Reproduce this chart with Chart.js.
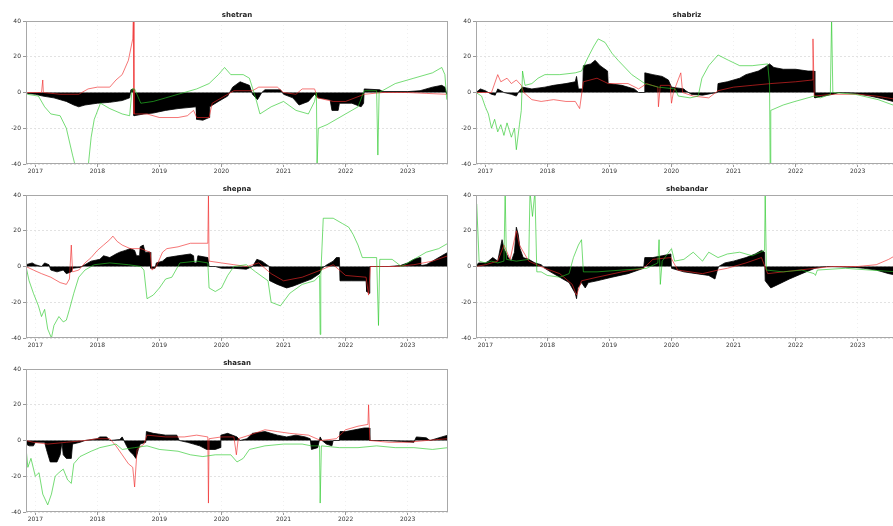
<!DOCTYPE html>
<html>
<head>
<meta charset="utf-8">
<script src="https://cdn.jsdelivr.net/npm/chart.js@4.4.1/dist/chart.umd.min.js"></script>
<style>
  html, body { margin: 0; padding: 0; background: #fff; overflow: hidden; }
  body { width: 893px; height: 526px; position: relative; }
  canvas { position: absolute; }
</style>
</head>
<body>
<script>
// ---- data: decimal-year / value pairs for each panel ----
const panelTitles = ['shetran', 'shabriz', 'shepna', 'shebandar', 'shasan'];
const yearTicks = [2017, 2018, 2019, 2020, 2021, 2022, 2023];
const yearLabels = ['2017', '2018', '2019', '2020', '2021', '2022', '2023'];
const valueTicks = [-40, -20, 0, 20, 40];

const shetranFill = [[2016.87,-0.5],[2017.0,-1],[2017.12,-2],[2017.3,-3],[2017.5,-5],[2017.62,-7],[2017.7,-8],[2017.8,-7],[2018.0,-6],[2018.2,-5.5],[2018.4,-4.5],[2018.52,-3],[2018.54,1.5],[2018.58,2],[2018.59,-13],[2018.75,-12],[2018.9,-11.5],[2019.1,-10],[2019.3,-9],[2019.59,-8],[2019.6,-15],[2019.7,-15.5],[2019.8,-14],[2019.81,-8],[2019.95,-5],[2020.1,-2],[2020.18,3],[2020.3,6],[2020.45,4],[2020.5,-1],[2020.58,-4],[2020.65,0],[2020.7,1.5],[2020.95,1.5],[2021.0,-1],[2021.15,-3],[2021.25,-7],[2021.4,-5],[2021.5,-1],[2021.55,-3],[2021.75,-4],[2021.78,-10],[2021.88,-10],[2021.9,-6],[2022.1,-6],[2022.25,-8],[2022.29,-6],[2022.3,2],[2022.55,1.5],[2022.6,0.5],[2023.0,0.5],[2023.2,1],[2023.4,3],[2023.55,4],[2023.6,3],[2023.63,-1]];
const shetranRed = [[2016.87,0],[2017.1,0],[2017.12,7],[2017.13,0],[2017.4,-1],[2017.7,-1],[2017.85,2],[2018.0,3],[2018.2,3],[2018.3,7],[2018.4,10],[2018.5,18],[2018.57,30],[2018.58,42],[2018.59,-12],[2018.8,-12],[2019.0,-14],[2019.3,-14],[2019.45,-13],[2019.55,-10],[2019.6,-14],[2019.8,-14],[2019.85,-6],[2020.1,-1],[2020.2,1],[2020.5,1],[2020.6,3],[2020.9,3],[2021.0,0],[2021.2,-1],[2021.3,2],[2021.5,2],[2021.55,-3],[2021.8,-5],[2022.0,-5],[2022.3,-1],[2022.6,0],[2023.0,0],[2023.3,-0.5],[2023.63,-1]];
const shetranGreen = [[2016.87,-1],[2017.05,-2],[2017.15,-8],[2017.25,-12],[2017.4,-13],[2017.5,-20],[2017.6,-35],[2017.65,-42],[2017.85,-42],[2017.9,-25],[2017.95,-15],[2018.05,-6],[2018.2,-9],[2018.4,-12],[2018.52,-13],[2018.56,2],[2018.6,2],[2018.7,-6],[2018.9,-5],[2019.1,-3],[2019.4,0],[2019.6,2],[2019.8,5],[2019.95,10],[2020.05,14],[2020.15,10],[2020.35,10],[2020.45,8],[2020.55,-3],[2020.62,-12],[2020.8,-8],[2021.0,-5],[2021.2,-10],[2021.4,-12],[2021.5,-5],[2021.53,0],[2021.54,-42],[2021.56,-20],[2021.7,-18],[2022.0,-12],[2022.2,-8],[2022.3,1],[2022.5,1],[2022.52,-35],[2022.54,0],[2022.8,5],[2023.1,8],[2023.4,11],[2023.55,14],[2023.6,10],[2023.63,-4]];

const shabrizFill = [[2016.85,0],[2016.92,2],[2017.0,1],[2017.1,-1],[2017.16,-1.5],[2017.2,2],[2017.3,0],[2017.42,-1],[2017.5,-2],[2017.55,1],[2017.6,3],[2017.75,2],[2017.96,3],[2018.1,4],[2018.3,5],[2018.45,6],[2018.47,9],[2018.5,2],[2018.57,2],[2018.58,15],[2018.7,16],[2018.77,18],[2018.85,15],[2018.97,12],[2018.98,5],[2019.2,4],[2019.4,2],[2019.47,0],[2019.56,0],[2019.57,11],[2019.7,10],[2019.85,9],[2019.95,7],[2020.0,3],[2020.2,2],[2020.23,1],[2020.32,-1],[2020.5,-1.5],[2020.65,-0.5],[2020.74,0],[2020.75,5],[2020.9,6],[2021.1,8],[2021.2,10],[2021.4,12],[2021.5,14],[2021.58,16],[2021.65,14],[2021.8,13],[2022.0,13],[2022.2,12],[2022.3,12],[2022.31,-3],[2022.45,-2],[2022.6,-1],[2022.7,0],[2022.96,-0.5],[2023.2,-2],[2023.4,-3.5],[2023.57,-5],[2023.65,-6]];
const shabrizRed = [[2016.85,0],[2017.1,0],[2017.2,10],[2017.25,6],[2017.35,8],[2017.42,5],[2017.5,7],[2017.58,4],[2017.62,0],[2017.75,-4],[2017.9,-5],[2018.1,-4],[2018.3,-5],[2018.45,-5],[2018.52,-9],[2018.58,6],[2018.8,8],[2018.98,5],[2019.3,5],[2019.47,2],[2019.6,5],[2019.78,3],[2019.79,-8],[2019.82,4],[2019.98,4],[2020.0,-6],[2020.03,0],[2020.15,11],[2020.18,0],[2020.35,-2],[2020.6,-3],[2020.75,1],[2021.0,3],[2021.3,4],[2021.6,5],[2022.0,6],[2022.27,7],[2022.28,30],[2022.3,-2],[2022.6,-1],[2023.0,-1],[2023.3,-2],[2023.65,-4]];
const shabrizGreen = [[2016.85,0],[2016.94,-2],[2017.0,-8],[2017.05,-12],[2017.1,-20],[2017.15,-15],[2017.2,-22],[2017.25,-18],[2017.3,-24],[2017.35,-17],[2017.42,-25],[2017.47,-20],[2017.5,-32],[2017.55,-18],[2017.58,-10],[2017.6,12],[2017.64,4],[2017.75,5],[2017.85,8],[2017.96,10],[2018.2,10],[2018.45,11],[2018.55,12],[2018.66,20],[2018.75,26],[2018.82,30],[2018.93,28],[2019.04,22],[2019.14,18],[2019.36,10],[2019.57,5],[2019.79,3],[2020.06,2],[2020.11,-2],[2020.3,-3],[2020.43,-2],[2020.49,8],[2020.6,15],[2020.75,21],[2020.92,18],[2021.1,15],[2021.3,15],[2021.55,16],[2021.58,5],[2021.59,-42],[2021.6,-10],[2021.8,-7],[2021.99,-5],[2022.3,-2],[2022.4,-3],[2022.56,-1],[2022.58,42],[2022.6,0],[2022.96,-1],[2023.33,-4],[2023.65,-8]];

const shepnaFill = [[2016.85,1],[2016.95,2],[2017.0,1],[2017.1,0],[2017.15,2],[2017.22,1],[2017.25,-2],[2017.35,-3],[2017.45,-2],[2017.5,-4],[2017.58,-3],[2017.6,-1],[2017.72,-0.5],[2017.8,1],[2017.9,3],[2018.04,4],[2018.1,6],[2018.2,5],[2018.3,7],[2018.36,8],[2018.45,9],[2018.53,10],[2018.6,9],[2018.63,6],[2018.68,6],[2018.69,11],[2018.74,12],[2018.77,8],[2018.85,8],[2018.86,-1],[2018.93,-1],[2018.95,2],[2019.05,3],[2019.12,5],[2019.3,6],[2019.5,7],[2019.55,6],[2019.56,2],[2019.6,2],[2019.62,6],[2019.78,5],[2019.8,0],[2019.9,0],[2020.0,-1],[2020.2,-1],[2020.4,-1.5],[2020.5,0],[2020.57,4],[2020.65,3],[2020.73,1],[2020.77,0],[2020.78,-8],[2020.9,-10],[2021.05,-12],[2021.15,-11],[2021.3,-9],[2021.45,-7],[2021.58,-4],[2021.62,-1],[2021.7,1],[2021.8,3],[2021.85,5],[2021.9,5],[2021.91,-8],[2022.1,-8],[2022.33,-8],[2022.34,-14],[2022.38,-15],[2022.39,0],[2022.7,0],[2022.88,0.5],[2023.0,2],[2023.1,4],[2023.2,5],[2023.21,0.5],[2023.3,1],[2023.4,3],[2023.55,6],[2023.65,8]];
const shepnaRed = [[2016.85,0],[2016.97,-2],[2017.1,-4],[2017.25,-6],[2017.4,-9],[2017.5,-10],[2017.55,-7],[2017.58,12],[2017.6,-3],[2017.7,-2],[2017.8,2],[2017.9,5],[2018.0,9],[2018.1,12],[2018.2,15],[2018.25,17],[2018.32,14],[2018.4,12],[2018.53,10],[2018.7,10],[2018.85,8],[2018.88,-2],[2018.95,0],[2019.05,8],[2019.12,10],[2019.3,11],[2019.5,13],[2019.78,13],[2019.79,40],[2019.8,3],[2020.0,2],[2020.2,1],[2020.41,0],[2020.6,2],[2020.8,-4],[2021.0,-8],[2021.3,-6],[2021.6,-2],[2021.8,1],[2022.0,-5],[2022.33,-6],[2022.37,-16],[2022.4,0],[2022.8,0],[2023.1,1],[2023.4,3],[2023.65,6]];
const shepnaGreen = [[2016.85,0],[2016.9,-8],[2016.97,-15],[2017.05,-22],[2017.1,-28],[2017.15,-24],[2017.2,-35],[2017.26,-40],[2017.3,-33],[2017.38,-28],[2017.45,-31],[2017.5,-30],[2017.55,-24],[2017.62,-15],[2017.7,-6],[2017.8,-2],[2017.95,1],[2018.2,2],[2018.5,1],[2018.7,0],[2018.75,-2],[2018.8,-18],[2018.9,-16],[2019.0,-12],[2019.1,-7],[2019.2,-6],[2019.33,2],[2019.6,3],[2019.78,2],[2019.8,-12],[2019.9,-14],[2020.0,-12],[2020.1,-5],[2020.2,0],[2020.4,1],[2020.55,-3],[2020.75,-8],[2020.8,-20],[2020.95,-22],[2021.1,-15],[2021.3,-10],[2021.5,-8],[2021.58,-5],[2021.59,-38],[2021.6,-5],[2021.64,27],[2021.8,27],[2021.95,24],[2022.05,22],[2022.12,18],[2022.2,12],[2022.27,5],[2022.5,5],[2022.53,-33],[2022.55,4],[2022.75,4],[2022.9,0],[2023.1,4],[2023.3,8],[2023.5,10],[2023.65,13]];

const shebandarFill = [[2016.85,0],[2016.89,2],[2017.0,2],[2017.05,3],[2017.12,5],[2017.16,4],[2017.2,3],[2017.24,10],[2017.27,15],[2017.3,10],[2017.37,5],[2017.42,3],[2017.47,8],[2017.5,22],[2017.53,18],[2017.56,10],[2017.61,5],[2017.7,4],[2017.8,2],[2017.9,1],[2017.96,-1],[2018.05,-3],[2018.2,-6],[2018.35,-9],[2018.4,-12],[2018.45,-15],[2018.47,-18],[2018.49,-12],[2018.55,-9],[2018.61,-12],[2018.66,-9],[2018.8,-8],[2019.04,-6],[2019.3,-4],[2019.55,-1],[2019.57,5],[2019.7,5],[2019.85,6],[2019.99,7],[2020.0,-1],[2020.2,-3],[2020.4,-4],[2020.6,-5],[2020.7,-7],[2020.74,-2],[2020.76,0],[2020.86,2],[2021.0,3],[2021.2,5],[2021.35,7],[2021.45,9],[2021.5,8],[2021.51,-8],[2021.6,-12],[2021.72,-10],[2021.9,-7],[2022.1,-4],[2022.31,-1],[2022.5,0],[2022.96,-0.5],[2023.1,-1],[2023.3,-2],[2023.5,-4],[2023.65,-5]];
const shebandarRed = [[2016.85,0],[2017.0,1],[2017.2,3],[2017.3,12],[2017.4,4],[2017.5,20],[2017.55,12],[2017.7,3],[2017.96,-1],[2018.2,-4],[2018.4,-10],[2018.47,-16],[2018.55,-8],[2018.8,-6],[2019.2,-3],[2019.55,-1],[2019.7,4],[2019.99,5],[2020.1,-2],[2020.5,-4],[2020.75,-2],[2020.9,-1],[2021.2,2],[2021.45,5],[2021.55,-4],[2021.8,-3],[2022.31,-1],[2022.6,0],[2023.0,0],[2023.3,1],[2023.5,4],[2023.65,7]];
const shebandarGreen = [[2016.85,0],[2016.86,35],[2016.88,20],[2016.9,3],[2017.0,2],[2017.1,3],[2017.2,2],[2017.3,3],[2017.32,42],[2017.34,4],[2017.5,3],[2017.7,4],[2017.72,42],[2017.76,28],[2017.8,42],[2017.83,-3],[2017.9,-3],[2018.0,-5],[2018.2,-6],[2018.35,-4],[2018.42,5],[2018.5,12],[2018.55,15],[2018.58,-3],[2018.8,-3],[2019.2,-2],[2019.6,-1],[2019.78,2],[2019.8,15],[2019.82,-10],[2019.85,3],[2020.0,10],[2020.05,3],[2020.2,4],[2020.35,8],[2020.5,3],[2020.6,8],[2020.75,5],[2020.9,7],[2021.1,8],[2021.3,6],[2021.5,9],[2021.51,40],[2021.53,-2],[2021.8,-3],[2022.1,-2],[2022.3,-4],[2022.32,-5],[2022.35,-2],[2022.8,-1],[2023.2,-2],[2023.65,-3]];

const shasanFill = [[2016.85,-2],[2016.9,-3],[2016.97,-3],[2017.0,-1],[2017.15,-1],[2017.18,-5],[2017.24,-12],[2017.35,-12],[2017.4,-8],[2017.43,-1],[2017.45,-8],[2017.5,-10],[2017.58,-10],[2017.6,-2],[2017.72,-1],[2017.8,0],[2018.0,1],[2018.04,2],[2018.15,2],[2018.2,0],[2018.36,0.5],[2018.4,2],[2018.47,-3],[2018.52,-6],[2018.58,-8],[2018.62,-10],[2018.66,-5],[2018.69,-2],[2018.78,-1],[2018.79,5],[2018.9,4],[2019.1,3],[2019.28,3],[2019.32,0],[2019.45,-1],[2019.55,-2],[2019.65,-3],[2019.76,-5],[2019.9,-5],[2019.98,-4],[2019.99,3],[2020.1,4],[2020.25,2],[2020.3,0],[2020.41,1],[2020.5,4],[2020.7,5],[2020.9,3],[2021.05,2],[2021.2,3],[2021.35,2],[2021.43,1],[2021.45,-5],[2021.55,-4],[2021.59,2],[2021.62,0],[2021.69,-2],[2021.78,-3],[2021.8,0],[2021.9,0],[2021.91,5],[2022.0,5],[2022.15,6],[2022.3,7],[2022.38,7],[2022.39,0],[2022.6,0],[2022.9,-0.5],[2023.1,-1],[2023.14,2],[2023.3,1.5],[2023.36,0],[2023.55,2],[2023.65,3]];
const shasanRed = [[2016.85,0],[2016.97,-1],[2017.2,-2],[2017.5,-1],[2017.8,0],[2018.0,1],[2018.2,1],[2018.3,-3],[2018.4,-8],[2018.5,-13],[2018.57,-15],[2018.6,-26],[2018.64,-5],[2018.75,-2],[2018.8,3],[2019.1,2],[2019.4,2],[2019.6,3],[2019.78,2],[2019.79,-35],[2019.8,1],[2020.0,2],[2020.2,2],[2020.24,-8],[2020.27,1],[2020.45,3],[2020.7,6],[2020.9,5],[2021.1,4],[2021.4,3],[2021.6,0],[2021.85,1],[2022.0,6],[2022.2,8],[2022.36,9],[2022.37,20],[2022.39,0],[2022.7,-1],[2023.0,-1],[2023.3,0],[2023.65,1]];
const shasanGreen = [[2016.85,-4],[2016.88,-15],[2016.93,-10],[2017.0,-20],[2017.06,-18],[2017.12,-30],[2017.2,-36],[2017.26,-30],[2017.32,-20],[2017.38,-18],[2017.45,-16],[2017.52,-22],[2017.58,-24],[2017.62,-13],[2017.72,-9],[2017.9,-6],[2018.04,-4],[2018.3,-2],[2018.4,-5],[2018.6,-4],[2018.8,-3],[2019.0,-5],[2019.3,-6],[2019.5,-8],[2019.7,-9],[2019.9,-8],[2020.15,-8],[2020.25,-12],[2020.35,-10],[2020.45,-5],[2020.7,-3],[2021.0,-2],[2021.3,-2],[2021.45,-3],[2021.58,-3],[2021.59,-35],[2021.61,-3],[2021.9,-4],[2022.2,-4],[2022.5,-3],[2022.8,-4],[2023.1,-4],[2023.4,-5],[2023.65,-4]];

const fillSeries = [shetranFill, shabrizFill, shepnaFill, shebandarFill, shasanFill];
const redSeries = [shetranRed, shabrizRed, shepnaRed, shebandarRed, shasanRed];
const greenSeries = [shetranGreen, shabrizGreen, shepnaGreen, shebandarGreen, shasanGreen];

// ---- layout of the five panels ----
const canvasSpots = [
  { left: 0, top: 0 }, { left: 450, top: 0 },
  { left: 0, top: 174 }, { left: 450, top: 174 },
  { left: 0, top: 348 }
];
const CANVAS_W = 452, CANVAS_H = 180;

// title above each plot plus a grey frame round the plot area
const frameAndTitle = {
  id: 'frameAndTitle',
  afterDraw(chart, args, opts) {
    const { ctx, chartArea: a } = chart;
    ctx.save();
    ctx.strokeStyle = '#a8a8a8';
    ctx.lineWidth = 1;
    ctx.strokeRect(Math.round(a.left) + 0.5, Math.round(a.top) + 0.5,
                   Math.round(a.right - a.left) - 1, Math.round(a.bottom - a.top) - 1);
    ctx.fillStyle = '#222';
    ctx.font = 'bold 7px "DejaVu Sans", sans-serif';
    ctx.textAlign = 'center';
    ctx.textBaseline = 'middle';
    ctx.fillText(opts.text, (a.left + a.right) / 2, a.top - 6);
    ctx.restore();
  }
};

panelTitles.forEach((title, i) => {
  const cv = document.createElement('canvas');
  cv.width = CANVAS_W; cv.height = CANVAS_H;
  cv.style.left = canvasSpots[i].left + 'px';
  cv.style.top = canvasSpots[i].top + 'px';
  cv.style.width = CANVAS_W + 'px';
  cv.style.height = CANVAS_H + 'px';
  document.body.appendChild(cv);

  new Chart(cv, {
    type: 'line',
    data: {
      datasets: [
        { data: greenSeries[i], borderColor: 'rgba(40,200,40,0.8)', borderWidth: 0.8,
          pointRadius: 0, fill: false, order: 1 },
        { data: redSeries[i], borderColor: 'rgba(240,40,40,0.8)', borderWidth: 0.8,
          pointRadius: 0, fill: false, order: 2 },
        { data: fillSeries[i], borderColor: '#000', backgroundColor: '#000', borderWidth: 0.8,
          pointRadius: 0, fill: 'origin', order: 3 }
      ]
    },
    options: {
      responsive: false,
      animation: false,
      devicePixelRatio: 1,
      layout: { padding: { top: 21, right: 4, left: 0, bottom: 0 } },
      plugins: {
        legend: { display: false },
        tooltip: { enabled: false },
        frameAndTitle: { text: title }
      },
      scales: {
        x: {
          type: 'linear',
          min: 2016.85, max: 2023.65,
          afterBuildTicks: (s) => { s.ticks = yearTicks.map(v => ({ value: v })); },
          afterFit: (s) => { s.height = 16; },
          grid: { color: '#f0f0f0', tickColor: '#999', tickLength: 3, drawOnChartArea: true },
          border: { display: false, dash: [1, 3] },
          ticks: {
            autoSkip: false, maxRotation: 0, padding: 1, color: '#333',
            font: { size: 6, family: '"DejaVu Sans", sans-serif' },
            callback: (v) => { const k = yearTicks.indexOf(v); return k >= 0 ? yearLabels[k] : ''; }
          }
        },
        y: {
          min: -40, max: 40,
          afterBuildTicks: (s) => { s.ticks = valueTicks.map(v => ({ value: v })); },
          afterFit: (s) => { s.width = 26; },
          grid: { color: '#e2e2e2', tickColor: '#999', tickLength: 3 },
          border: { display: false, dash: [2, 2] },
          ticks: {
            padding: 2, color: '#333',
            font: { size: 6, family: '"DejaVu Sans", sans-serif' }
          }
        }
      }
    },
    plugins: [frameAndTitle]
  });
});
</script>
</body>
</html>
